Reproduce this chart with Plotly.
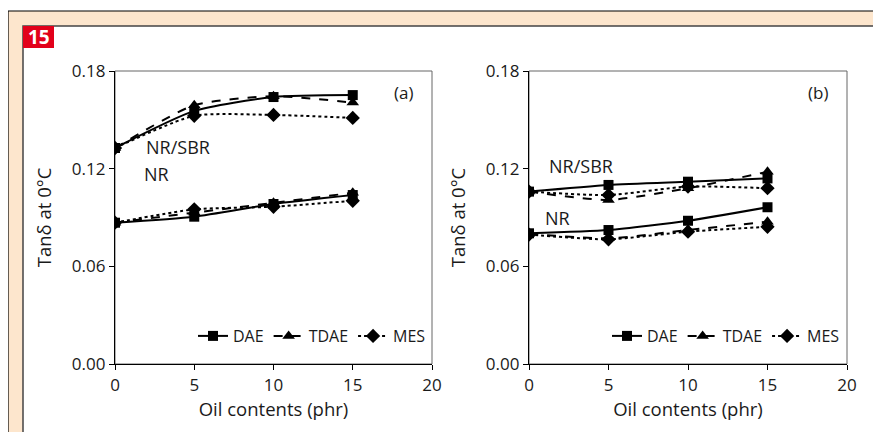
import plotly.graph_objects as go

# ---------------- data ----------------
oil_phr = [0, 5, 10, 15]
oils = ["DAE", "TDAE", "MES"]

# panel (a)
a_nrsbr_dae = [0.1327, 0.1555, 0.1640, 0.1652]
a_nrsbr_tdae = [0.1327, 0.1590, 0.1645, 0.1606]
a_nrsbr_mes = [0.1327, 0.1525, 0.1530, 0.1512]
a_nr_dae = [0.0868, 0.0905, 0.0983, 0.1038]
a_nr_tdae = [0.0868, 0.0930, 0.0990, 0.1052]
a_nr_mes = [0.0868, 0.0950, 0.0966, 0.1003]

# panel (b)
b_nrsbr_dae = [0.1059, 0.1100, 0.1120, 0.1140]
b_nrsbr_tdae = [0.1059, 0.1008, 0.1080, 0.1181]
b_nrsbr_mes = [0.1059, 0.1038, 0.1090, 0.1080]
b_nr_dae = [0.0803, 0.0823, 0.0880, 0.0963]
b_nr_tdae = [0.0800, 0.0772, 0.0823, 0.0874]
b_nr_mes = [0.0795, 0.0766, 0.0813, 0.0843]

y_ticks = [0.00, 0.06, 0.12, 0.18]
y_tick_labels = ["0.00", "0.06", "0.12", "0.18"]
x_ticks = [0, 5, 10, 15, 20]

FONT = "Open Sans"
TXT = "#1a1a1a"
W, H = 881, 432
OFF = 8  # page body offset

symbols = {"DAE": "square", "TDAE": "triangle-up", "MES": "diamond"}
dashes = {"DAE": "solid", "TDAE": "dash", "MES": "dot"}
msize = {"DAE": 10, "TDAE": 11, "MES": 11}

fig = go.Figure()

panels = [
    ("x", "y", "legend", [a_nrsbr_dae, a_nrsbr_tdae, a_nrsbr_mes], [a_nr_dae, a_nr_tdae, a_nr_mes]),
    ("x2", "y2", "legend2", [b_nrsbr_dae, b_nrsbr_tdae, b_nrsbr_mes], [b_nr_dae, b_nr_tdae, b_nr_mes]),
]

for xa, ya, leg, sbr, nr in panels:
    for group_i, group in enumerate([nr, sbr]):
        for oil, vals in zip(oils, group):
            fig.add_trace(go.Scatter(
                x=oil_phr, y=vals, xaxis=xa, yaxis=ya,
                mode="lines+markers", name=oil,
                line=dict(color="black", width=2, dash=dashes[oil], shape="spline", smoothing=0.6),
                marker=dict(symbol=symbols[oil], size=msize[oil], color="black"),
                showlegend=(group_i == 0), legend=leg,
            ))

def px(xp):
    return (xp - OFF) / W

def py(yp):
    return (H - (yp - OFF)) / H

dom_y = [py(364), py(71)]
axis_common = dict(
    showline=True, linecolor="black", linewidth=1.3, ticks="outside", ticklen=5,
    tickcolor="black", showgrid=False, zeroline=False, automargin=False,
    tickfont=dict(family=FONT, size=17, color=TXT),
)
title_font = dict(family=FONT, size=18.5, color=TXT)

fig.update_layout(
    width=W, height=H, margin=dict(l=0, r=0, t=0, b=0, pad=0, autoexpand=False),
    paper_bgcolor="white", plot_bgcolor="rgba(0,0,0,0)",
    font=dict(family=FONT, color=TXT),
    xaxis=dict(domain=[px(115), px(432)], range=[0, 20], tickvals=x_ticks, anchor="y",
               title=dict(text="Oil contents (phr)", font=title_font, standoff=2),
               **axis_common),
    yaxis=dict(domain=dom_y, range=[0, 0.18], tickvals=y_ticks, ticktext=y_tick_labels, anchor="x",
               title=dict(text="Tanδ at 0°C", font=title_font, standoff=15),
               **axis_common),
    xaxis2=dict(domain=[px(529), px(847)], range=[0, 20], tickvals=x_ticks, anchor="y2",
                title=dict(text="Oil contents (phr)", font=title_font, standoff=2),
                **axis_common),
    yaxis2=dict(domain=dom_y, range=[0, 0.18], tickvals=y_ticks, ticktext=y_tick_labels, anchor="x2",
                title=dict(text="Tanδ at 0°C", font=title_font, standoff=15),
                **axis_common),
    legend=dict(orientation="h", x=px(193), y=py(336), xanchor="left", yanchor="middle",
                bgcolor="rgba(0,0,0,0)", font=dict(family=FONT, size=16, color=TXT),
                itemwidth=30, tracegroupgap=0),
    legend2=dict(orientation="h", x=px(607), y=py(336), xanchor="left", yanchor="middle",
                 bgcolor="rgba(0,0,0,0)", font=dict(family=FONT, size=16, color=TXT),
                 itemwidth=30, tracegroupgap=0),
)

shapes = [
    # peach outer frame
    dict(type="rect", xref="paper", yref="paper", x0=px(8), x1=1.02, y0=-0.03, y1=py(11),
         fillcolor="#FDE6CD", line=dict(color="black", width=1.2), layer="below"),
    # inner white panel
    dict(type="rect", xref="paper", yref="paper", x0=px(23), x1=px(876), y0=-0.03, y1=py(26),
         fillcolor="white", line=dict(color="#444", width=1.5), layer="below"),
    # red label box
    dict(type="rect", xref="paper", yref="paper", x0=px(23), x1=px(54), y0=py(48), y1=py(26),
         fillcolor="#E2001A", line=dict(width=0), layer="below"),
    # plot box (top/right) in gray
    dict(type="rect", xref="x domain", yref="y domain", x0=0, x1=1, y0=0, y1=1,
         line=dict(color="#666", width=1), layer="below"),
    dict(type="rect", xref="x2 domain", yref="y2 domain", x0=0, x1=1, y0=0, y1=1,
         line=dict(color="#666", width=1), layer="below"),
]
fig.update_layout(shapes=shapes)

ann_font = dict(family=FONT, size=18, color=TXT)
annotations = [
    dict(text="<b>15</b>", xref="paper", yref="paper", x=px(38.5), y=py(37), showarrow=False,
         font=dict(family=FONT, size=19, color="white"), xanchor="center", yanchor="middle"),
    dict(text="(a)", xref="x", yref="y", x=18.2, y=0.1665, showarrow=False, font=dict(family=FONT, size=17, color=TXT)),
    dict(text="(b)", xref="x2", yref="y2", x=18.2, y=0.1665, showarrow=False, font=dict(family=FONT, size=17, color=TXT)),
    dict(text="NR/SBR", xref="x", yref="y", x=4.0, y=0.1335, showarrow=False, font=ann_font),
    dict(text="NR", xref="x", yref="y", x=2.6, y=0.1170, showarrow=False, font=ann_font),
    dict(text="NR/SBR", xref="x2", yref="y2", x=3.27, y=0.1216, showarrow=False, font=ann_font),
    dict(text="NR", xref="x2", yref="y2", x=1.82, y=0.0897, showarrow=False, font=ann_font),
]
fig.update_layout(annotations=annotations)

fig.write_html("out.html")
